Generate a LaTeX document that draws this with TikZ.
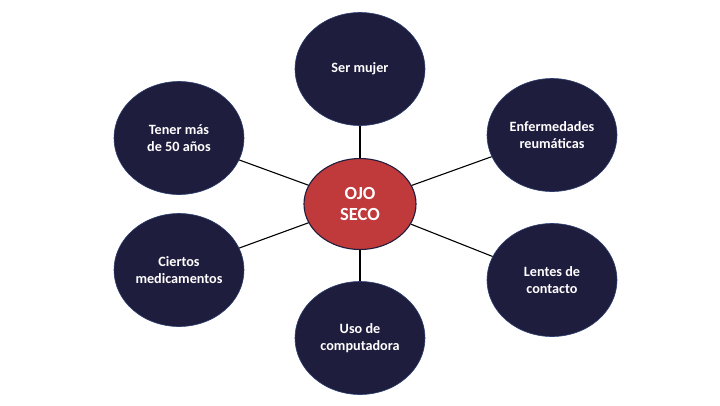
\documentclass[tikz,border=0pt]{standalone}
\usepackage{fontspec}
\setmainfont{Carlito}
\usetikzlibrary{shapes.geometric}
\definecolor{navy}{RGB}{31,29,62}
\definecolor{navyedge}{RGB}{44,62,110}
\definecolor{ojored}{RGB}{192,57,59}
\tikzset{
  outer/.style={ellipse, draw=navyedge, line width=0.6pt, fill=navy, minimum width=130pt, minimum height=113pt, inner sep=0pt, align=center, text=white, font=\fontsize{14.2}{17}\selectfont\bfseries},
  hub/.style={ellipse, draw=navy, line width=1.1pt, fill=ojored, minimum width=112pt, minimum height=91pt, inner sep=0pt, align=center, text=white, font=\fontsize{18.5}{21}\selectfont\bfseries},
  link/.style={draw=black, line width=1.1pt}
}
\begin{document}
\begin{tikzpicture}[x=1pt,y=-1pt]
\useasboundingbox[fill=white] (0,0) rectangle (720,405);
\node[hub] (c) at (360,204) {OJO\\SECO};
\node[outer] (a) at (360,69) {Ser mujer};
\node[outer] (b) at (179,138) {Tener más\\de 50 años};
\node[outer] (d) at (552,135) {Enfermedades\\reumáticas};
\node[outer] (e) at (179,270) {Ciertos\\medicamentos};
\node[outer] (f) at (552,280) {Lentes de\\contacto};
\node[outer] (g) at (360,338) {Uso de\\computadora};
\foreach \n in {a,b,d,e,f,g} { \draw[link] (c) -- (\n); }
\end{tikzpicture}
\end{document}
